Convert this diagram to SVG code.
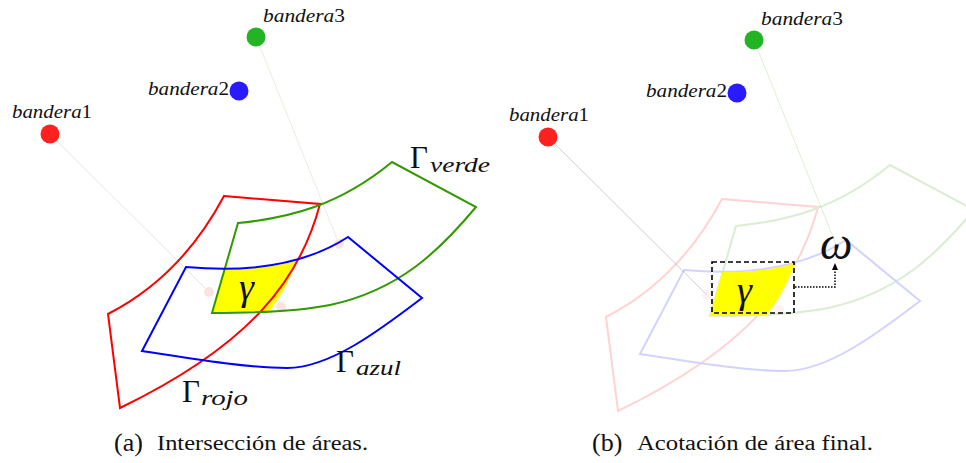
<svg xmlns="http://www.w3.org/2000/svg" xmlns:xlink="http://www.w3.org/1999/xlink" width="966" height="463" viewBox="0 0 966 463">
<style>
text{font-family:'Liberation Serif',serif;fill:#111}
.lbl{font-style:italic;font-size:19px}
.num{font-style:normal}
.big{font-size:31px}
.gl{font-style:italic;font-size:38px}
.om{font-style:italic;font-size:46px}
.sub{font-style:italic;font-size:22px}
.cap{font-size:20px}
.capl{font-size:26px}
.rojo{fill:none;stroke:#ff0000;stroke-width:2}
.azul{fill:none;stroke:#0000ff;stroke-width:2}
.verde{fill:none;stroke:#339900;stroke-width:2}
.gam{fill:#ffff00;stroke:none}
.dot{fill:#fbe3e3}
</style>
<defs>
<marker id="ah" markerWidth="8" markerHeight="8" refX="4" refY="4" orient="auto" markerUnits="userSpaceOnUse">
<path d="M0,1 L7,4 L0,7 Z" fill="#000"/>
</marker>
<g id="shapes">
<path id="shRojo" class="rojo" d="M224,196 L320,204 C300,280 250,345 120,408 L108,314 C145,295 190,260 224,196 Z"/>
<path id="shVerde" class="verde" d="M238,223 C290,218 340,205 392,162 L476,207 C440,250 400,290 330,305 C300,311 250,313 212,313 Z"/>
<path id="shAzul" class="azul" d="M186,267 C240,272 300,268 348,237 L422,298 C380,330 330,368 287,368 C250,368 200,360 142,351 Z"/>
</g>
<path id="gammaShape" d="M224,269 C250,270 280,266 297,260 C290,280 280,298 268,313 L212,313 Z"/>
</defs>

<g id="connectors">
<line x1="50" y1="134" x2="209" y2="292" stroke="#e4e4e4" stroke-width="1"/>
<line x1="256" y1="37" x2="339" y2="244" stroke="#e2f2dc" stroke-width="1"/>
<line x1="548" y1="137" x2="707" y2="295" stroke="#cfcfcf" stroke-width="1"/>
<line x1="754" y1="40" x2="837" y2="247" stroke="#dcefd4" stroke-width="1"/>
<polyline points="795,287 835,287 835,266" fill="none" stroke="#000" stroke-width="1.5" stroke-dasharray="1.5,1.5" marker-end="url(#ah)"/>
</g>

<!-- Panel (a) -->
<g id="panelA">
<circle class="dot" cx="209" cy="292" r="5"/>
<circle class="dot" cx="339" cy="244" r="5"/>
<circle class="dot" cx="281" cy="307" r="5"/>
<use xlink:href="#gammaShape" class="gam"/>
<g id="gammaRojo"><use xlink:href="#shRojo"/></g>
<g id="gammaVerde"><use xlink:href="#shVerde"/></g>
<g id="gammaAzul"><use xlink:href="#shAzul"/></g>
<text class="gl" x="239" y="300">γ</text>
<text class="big" x="410" y="168">Γ</text><text class="sub" x="430" y="172" textLength="60" lengthAdjust="spacingAndGlyphs">verde</text>
<text class="big" x="336" y="372">Γ</text><text class="sub" x="356" y="375" textLength="45" lengthAdjust="spacingAndGlyphs">azul</text>
<text class="big" x="182" y="402">Γ</text><text class="sub" x="201" y="405" textLength="47" lengthAdjust="spacingAndGlyphs">rojo</text>
</g>
<g id="bandera1a"><circle cx="50" cy="134" r="9.5" fill="#ff2020"/><text class="lbl" x="12" y="118" textLength="80" lengthAdjust="spacingAndGlyphs">bandera<tspan class="num">1</tspan></text></g>
<g id="bandera2a"><circle cx="239" cy="91" r="9.5" fill="#2a1aff"/><text class="lbl" x="148" y="95" textLength="81" lengthAdjust="spacingAndGlyphs">bandera<tspan class="num">2</tspan></text></g>
<g id="bandera3a"><circle cx="256" cy="37" r="9.5" fill="#22b422"/><text class="lbl" x="263" y="22" textLength="82" lengthAdjust="spacingAndGlyphs">bandera<tspan class="num">3</tspan></text></g>

<!-- Panel (b) -->
<g id="panelB">
<g opacity="0.5">
<circle class="dot" cx="707" cy="295" r="5"/>
<circle class="dot" cx="779" cy="310" r="5"/>
</g>
<use xlink:href="#shapes" transform="translate(498,3)" opacity="0.17"/>
<use xlink:href="#gammaShape" class="gam" transform="translate(498,3)"/>
<rect x="712" y="262" width="82" height="51" fill="none" stroke="#000" stroke-width="1.6" stroke-dasharray="5,3"/>
<text class="gl" x="737" y="303">γ</text>
<text class="om" x="820" y="259">ω</text>
</g>
<g id="bandera1b"><circle cx="548" cy="137" r="9.5" fill="#ff2020"/><text class="lbl" x="509" y="121" textLength="80" lengthAdjust="spacingAndGlyphs">bandera<tspan class="num">1</tspan></text></g>
<g id="bandera2b"><circle cx="737" cy="93" r="9.5" fill="#2a1aff"/><text class="lbl" x="646" y="97" textLength="81" lengthAdjust="spacingAndGlyphs">bandera<tspan class="num">2</tspan></text></g>
<g id="bandera3b"><circle cx="754" cy="40" r="9.5" fill="#22b422"/><text class="lbl" x="761" y="25" textLength="82" lengthAdjust="spacingAndGlyphs">bandera<tspan class="num">3</tspan></text></g>

<g id="captions">
<text class="capl" x="114" y="451">(a)</text>
<text class="cap" x="157" y="450" textLength="211" lengthAdjust="spacingAndGlyphs">Intersección de áreas.</text>
<text class="capl" x="592" y="451">(b)</text>
<text class="cap" x="637" y="450" textLength="236" lengthAdjust="spacingAndGlyphs">Acotación de área final.</text>
</g>
</svg>
